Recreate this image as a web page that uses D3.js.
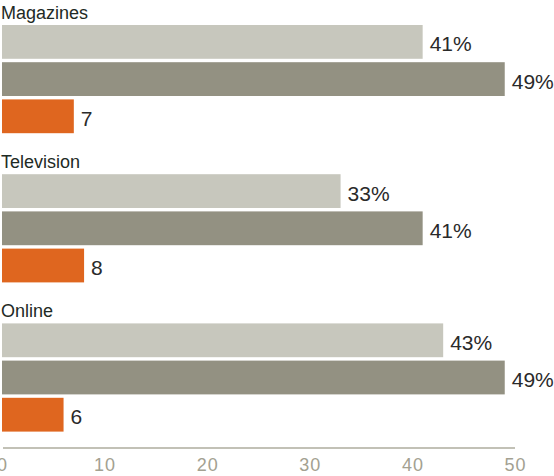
<!DOCTYPE html>
<html>
<head>
<meta charset="utf-8">
<script src="https://cdn.jsdelivr.net/npm/d3@7"></script>
<style>
  html, body { margin: 0; padding: 0; background: #fff; }
  svg { display: block; }
  text { font-family: "Liberation Sans", Arial, Helvetica, sans-serif; }
</style>
</head>
<body>
<svg id="chart" width="554" height="476"></svg>
<script>
const categories = ["Magazines", "Television", "Online"];
const series = ["a", "b", "c"];
const seriesColors = ["#c7c7bd", "#939182", "#df661f"];
const lightValues = [41, 33, 43];
const darkValues = [49, 41, 49];
const orangeValues = [7, 8, 6];
const valueLabels = [
  ["41%", "49%", "7"],
  ["33%", "41%", "8"],
  ["43%", "49%", "6"]
];
const tickValues = [0, 10, 20, 30, 40, 50];

const svg = d3.select("#chart");

const x = d3.scaleLinear().domain([0, 50]).range([2, 515]);

const groupY = d3.scaleBand().domain(categories).range([25, 25 + 3 * 149.2]).paddingInner(0).paddingOuter(0);
const barY = d3.scaleBand().domain(series).range([0, 108.2]).paddingInner(0.0914).paddingOuter(0);
const color = d3.scaleOrdinal().domain(series).range(seriesColors);

const rows = categories.map((c, i) => ({
  cat: c,
  bars: [
    { s: "a", v: lightValues[i], label: valueLabels[i][0] },
    { s: "b", v: darkValues[i], label: valueLabels[i][1] },
    { s: "c", v: orangeValues[i], label: valueLabels[i][2] }
  ]
}));

const g = svg.selectAll("g.group").data(rows).join("g")
  .attr("class", "group")
  .attr("transform", d => `translate(0,${groupY(d.cat)})`);

g.append("text")
  .attr("x", 1)
  .attr("y", -6)
  .attr("fill", "#1e2a25")
  .attr("font-size", 18)
  .text(d => d.cat);

g.selectAll("rect").data(d => d.bars).join("rect")
  .attr("x", x(0))
  .attr("y", d => barY(d.s))
  .attr("width", d => x(d.v) - x(0))
  .attr("height", barY.bandwidth())
  .attr("fill", d => color(d.s));

g.selectAll("text.val").data(d => d.bars).join("text")
  .attr("class", "val")
  .attr("x", d => x(d.v) + 7)
  .attr("y", d => barY(d.s) + barY.bandwidth() / 2 + 9.5)
  .attr("fill", "#2a2a2a")
  .attr("font-size", 21)
  .text(d => d.label);

const axis = d3.axisBottom(x).tickValues(tickValues).tickSize(0).tickPadding(10).tickFormat(d3.format("d"));
const ax = svg.append("g").attr("transform", "translate(0,448)").call(axis);
ax.select(".domain").attr("stroke", "#aeac9e").attr("stroke-width", 1.5).attr("d", `M${x(0) + 1},0H${x(50)}`);
ax.selectAll(".tick text")
  .attr("fill", "#a3a191")
  .attr("font-size", 18)
  .attr("letter-spacing", 1)
  .attr("font-family", "Liberation Sans, Arial, sans-serif");
</script>
</body>
</html>
